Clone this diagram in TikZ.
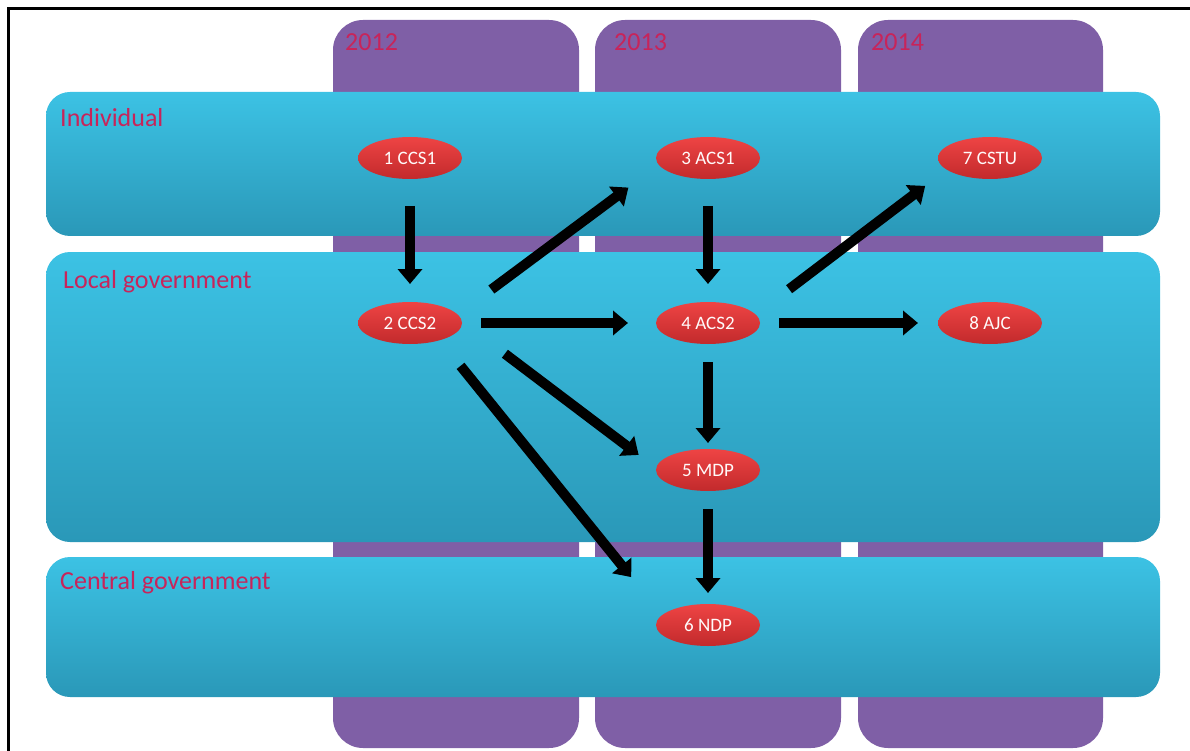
\documentclass[tikz,border=0pt]{standalone}
\usepackage{fontspec}
\setmainfont{Carlito}
\usepackage{tikz}
\usetikzlibrary{shapes.geometric,arrows.meta,positioning}
\definecolor{colpurple}{HTML}{7F5FA6}
\definecolor{bandtop}{HTML}{3CC2E4}
\definecolor{bandbot}{HTML}{2A98B8}
\definecolor{labred}{HTML}{C8245A}
\definecolor{elltop}{HTML}{EE4444}
\definecolor{ellbot}{HTML}{C22A2C}

\begin{document}
\begin{tikzpicture}[x=1pt,y=-1pt,
    year/.style={fill=colpurple, rounded corners=30pt},
    band/.style={top color=bandtop, bottom color=bandbot, rounded corners=24pt},
    level/.style={anchor=west, text=labred, font=\fontsize{26}{30}\selectfont, inner sep=0pt},
    item/.style={ellipse, minimum width=104pt, minimum height=42pt, inner sep=0pt, outer sep=0pt,
      top color=elltop, bottom color=ellbot, text=white!92!pink, font=\fontsize{19}{22}\selectfont},
    flow/.style={line width=10pt, -{Triangle[width=24pt,length=15pt]}}]
  \useasboundingbox (0,0) rectangle (1190,751);
  % frame
  \draw[line width=3pt] (8,9) rectangle (1210,770);
  % years
  \fill[year] (333,20) rectangle (579,748);
  \fill[year] (595,20) rectangle (841,748);
  \fill[year] (858,20) rectangle (1103,748);
  \node[level] (y12) at (345,42) {2012};
  \node[level] (y13) at (614,42) {2013};
  \node[level] (y14) at (871,42) {2014};
  % levels
  \shade[band] (46,92) rectangle (1160,236);
  \shade[band] (46,252) rectangle (1160,542);
  \shade[band] (46,557) rectangle (1160,697);
  \node[level] (indiv) at (60,118) {Individual};
  \node[level] (local) at (63,282) {Local government};
  \node[level] (central) at (60,583) {Central government};
  % programmes
  \node[item] (ccs1) at (410,158) {1 CCS1};
  \node[item] (acs1) at (708,158) {3 ACS1};
  \node[item] (cstu) at (990,158) {7 CSTU};
  \node[item] (ccs2) at (410,323) {2 CCS2};
  \node[item] (acs2) at (708,323) {4 ACS2};
  \node[item] (ajc) at (990,323) {8 AJC};
  \node[item] (mdp) at (708,470) {5 MDP};
  \node[item] (ndp) at (708,625) {6 NDP};
  % links
  \draw[flow, shorten <=27pt, shorten >=18pt] (ccs1) -- (ccs2);
  \draw[flow, shorten <=27pt, shorten >=18pt] (acs1) -- (acs2);
  \draw[flow, shorten <=19pt, shorten >=28pt] (ccs2) -- (acs2);
  \draw[flow, shorten <=19pt, shorten >=20pt] (acs2) -- (ajc);
  \draw[flow, shorten <=18pt, shorten >=6pt] (acs2) -- (mdp);
  \draw[flow, shorten <=18pt, shorten >=11pt] (mdp) -- (ndp);
  \draw[flow, shorten <=42pt, shorten >=38pt] (ccs2.10) -- (acs1.188);
  \draw[flow, shorten <=42pt, shorten >=27pt] (acs2.10) -- (cstu.195);
  \draw[flow, shorten <=54pt, shorten >=22pt] (ccs2.2) -- (mdp.178);
  \draw[flow, shorten <=33pt, shorten >=49pt] (ccs2.330) -- (ndp.168);
\end{tikzpicture}
\end{document}
